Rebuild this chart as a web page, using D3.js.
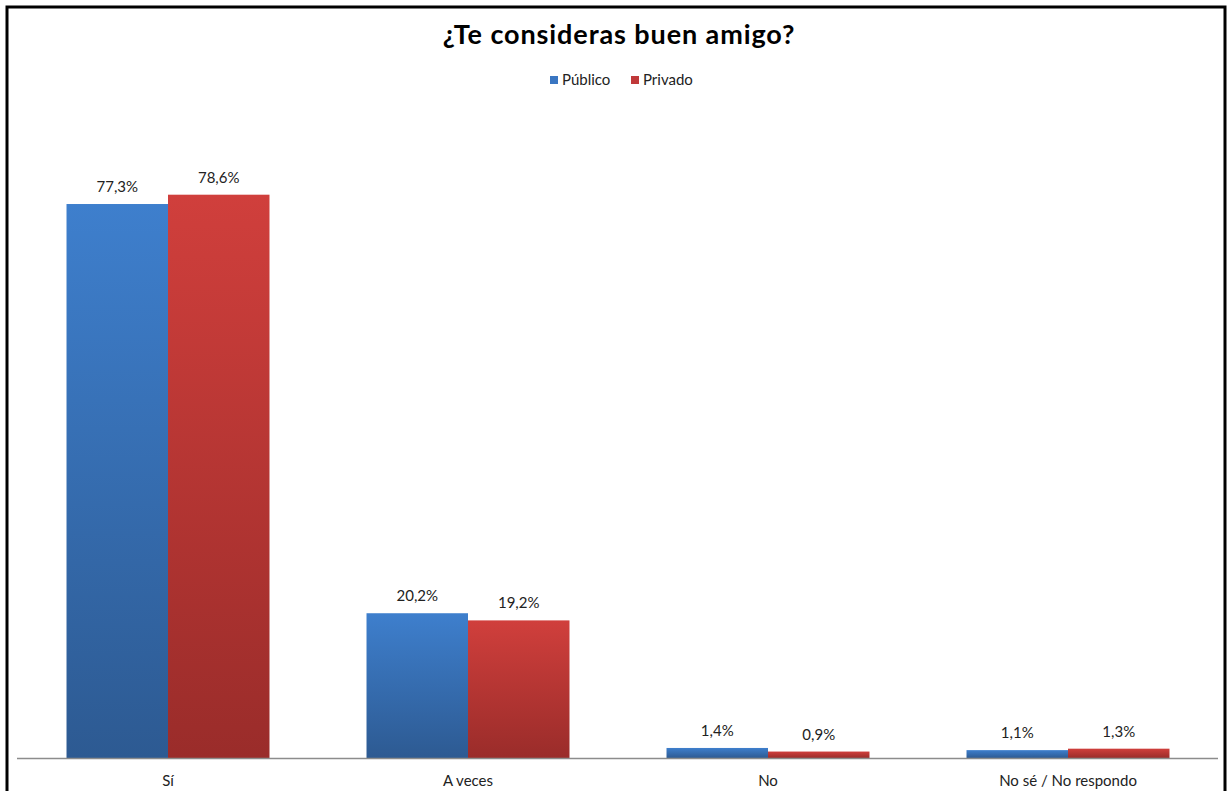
<!DOCTYPE html>
<html><head><meta charset="utf-8">
<script src="https://cdn.jsdelivr.net/npm/d3@7"></script>
<style>
html,body{margin:0;padding:0;background:#fff;}
svg{display:block;}
text{font-family:Lato,"Open Sans",sans-serif;}
</style></head>
<body><svg id="chart" width="1230" height="791"></svg>
<script>
const title = "¿Te consideras buen amigo?";
const categories = ["Sí", "A veces", "No", "No sé / No respondo"];
const seriesNames = ["Público", "Privado"];
const publico = [77.3, 20.2, 1.4, 1.1];
const privado = [78.6, 19.2, 0.9, 1.3];
const valueLabels = [["77,3%","20,2%","1,4%","1,1%"],["78,6%","19,2%","0,9%","1,3%"]];

const svg = d3.select("#chart");
const W = 1230, H = 791;

// frame
svg.append("path").attr("d", `M7,${H+5} L7,7 L1225,7 L1225,${H+5}`)
  .attr("fill","none").attr("stroke","#000").attr("stroke-width",3);

// gradients
const defs = svg.append("defs");
const grads = [["gBlue","#3e7fcd","#2d5a92"],["gRed","#d03f3c","#9a2c2a"]];
grads.forEach(([id,c1,c2])=>{
  const g = defs.append("linearGradient").attr("id",id).attr("x1",0).attr("y1",0).attr("x2",0).attr("y2",1);
  g.append("stop").attr("offset","0%").attr("stop-color",c1);
  g.append("stop").attr("offset","100%").attr("stop-color",c2);
});
const legendColors = ["#3a76c2","#c0393a"];

const x0 = d3.scaleBand().domain(categories).range([18,1218]).paddingInner(0).paddingOuter(0);
const x1 = d3.scaleBand().domain(seriesNames).range([0,x0.bandwidth()]).paddingInner(0).paddingOuter(0.478);
const y = d3.scaleLinear().domain([0,90]).range([758,113]);

const data = [publico, privado];

// bars
const groups = svg.append("g");
seriesNames.forEach((s,si)=>{
  categories.forEach((c,ci)=>{
    const v = data[si][ci];
    groups.append("rect")
      .attr("x", x0(c)+x1(s)).attr("y", y(v))
      .attr("width", x1.bandwidth()).attr("height", y(0)-y(v))
      .attr("fill", `url(#${grads[si][0]})`);
    svg.append("text")
      .attr("x", x0(c)+x1(s)+x1.bandwidth()/2)
      .attr("y", y(v)-12)
      .attr("text-anchor","middle")
      .attr("font-size",15).attr("fill","#222")
      .text(valueLabels[si][ci]);
  });
});

// axis
const axis = svg.append("g").attr("transform",`translate(0,${y(0)})`)
  .call(d3.axisBottom(x0).tickSize(0).tickPadding(17));
axis.select(".domain").attr("stroke","#8c8c8c").attr("stroke-width",1.5)
  .attr("d","M17,0.5H1218");
axis.selectAll("text").attr("font-size",15).attr("fill","#222").attr("font-family","Lato,'Open Sans',sans-serif");

// title
svg.append("text").attr("x",619).attr("y",44).attr("text-anchor","middle")
  .attr("font-size",27).attr("font-weight","bold").attr("fill","#000")
  .attr("letter-spacing","0.9px")
  .text(title);

// legend
const lg = svg.append("g");
const legX = [550, 631];
seriesNames.forEach((s,i)=>{
  lg.append("rect").attr("x",legX[i]).attr("y",76).attr("width",8).attr("height",8).attr("fill",legendColors[i]);
  lg.append("text").attr("x",legX[i]+12).attr("y",85).attr("font-size",15).attr("fill","#222").text(s);
});
</script></body></html>
